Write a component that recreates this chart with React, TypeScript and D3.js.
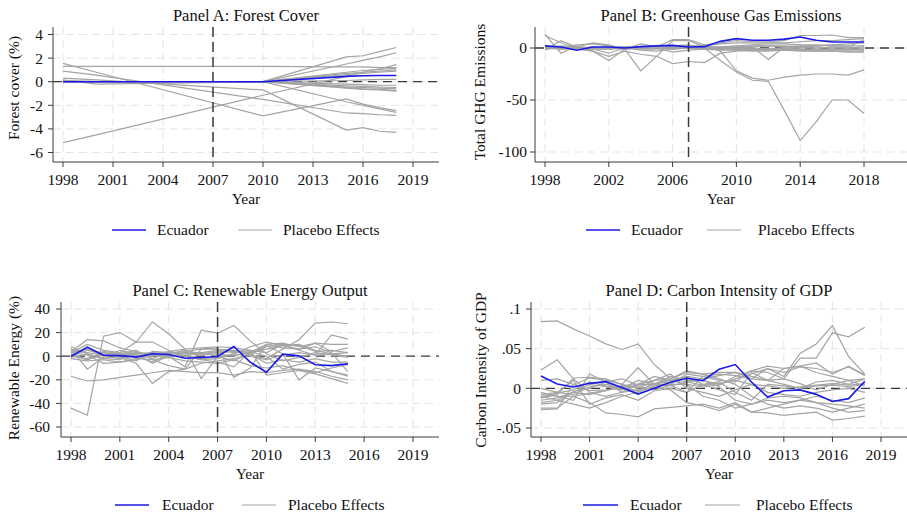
import React from 'react';
import * as d3 from 'd3';

// ---------------- DATA ----------------
const treatYear = 2007;

// Panel A: Forest cover (knot years of the series)
const aYears = [1998, 2000, 2010, 2015, 2016, 2017, 2018];
const aEcuador = [0, 0, 0, 0.45, 0.5, 0.52, 0.52];
const aPlacebo = [
  [1.3, 1.3, 1.3, 1.25, 1.25, 1.2, 1.2],
  [1.55, 0.8, -2.9, -1.45, -1.9, -2.2, -2.45],
  [0.9, 0.55, -1.5, -2.65, -2.7, -2.8, -2.85],
  [0.3, 0.15, -0.7, -4.1, -3.9, -4.2, -4.3],
  [-5.17, -4.5, -1.15, 0.45, 0.8, 1.1, 1.45],
  [0.15, -0.2, 0, 2.1, 2.2, 2.55, 2.9],
  [0.1, 0, 0, 1.5, 1.8, 2.1, 2.45],
  [0, 0, 0, 0.7, 0.8, 0.9, 1.0],
  [0, 0, 0, 0.6, 0.7, 0.8, 0.9],
  [0.05, 0, 0, 0.8, 0.95, 1.05, 1.15],
  [0, 0, 0, 0.1, 0.15, 0.2, 0.2],
  [0, 0, 0, -0.2, -0.25, -0.3, -0.3],
  [0, 0, 0, -0.35, -0.4, -0.45, -0.5],
  [0, 0, 0, -0.45, -0.5, -0.55, -0.6],
  [0.05, 0, 0, -0.5, -0.6, -0.65, -0.75],
  [0, 0, 0, -0.55, -0.65, -0.7, -0.8],
  [0, 0, 0, -1.7, -2.0, -2.3, -2.6],
];
const aXTicks = [1998, 2001, 2004, 2007, 2010, 2013, 2016, 2019];
const aYTicks = [-6, -4, -2, 0, 2, 4];
const aYTickLabels = ['-6', '-4', '-2', '0', '2', '4'];

// Panel B: GHG emissions
const bYears = d3.range(1998, 2019);
const bEcuador = [2, 1, -2.2, 1, 1, 0, 1.3, 2, 2.5, 1, 1.3, 6.4, 9, 7.4, 7.4, 8.5, 10.5, 7.4, 5.8, 5.8, 5.8];
const bPlacebo = [
  [1, 0, 1, 0, -1, 0, 1, 0, 2, 3, 0, -12, -23, -31, -32, -60, -89, -71, -50, -50, -63],
  [0, 2, 1, 0, 0, 1, 0, 1, 1, 2, 2, -3, -22, -29, -31, -28, -26, -25, -25, -26, -21],
  [13, -5, 2, -3, -12, -1, -22, -8, 7, 7, 1, 0, -1, 0, -1, 0, 1, 0, 1, 0, 1],
  [0, 1, -1, -3, -8, -3, -6, -8, -15, -13, -14, -5, -3, -2, -2, -1, -2, -1, -2, -1, -2],
  [-2, 7, 1, 5, 3, -1, 4, 1, 8, 8, 3, 5, 7, 6, 6, 7, 12, 12, 12.5, 10, 10],
  [12, 5, 0, -1, -5, 0, -2, -3, -1, 0, 2, 4, 5, 5, 5, 5, 6, 7, 7, 8, 9],
  [0, 0, 1, 0, 0, 0, 0, 0, 0, 0, 1, -1, 0, 1, -11, 1, 2, 2, 3, 1, 8],
  [1, -1, 0, -1, 0, 0, 1, 0, -1, 0, 0, 1, 2, 3, 4, 4, 3, 3, 2, 2, 2],
  [-1, 0, 0, 0, 0, -1, 0, 1, 0, 1, 1, 0, -1, -1, -2, -2, -3, -3, -3, -4, -4],
  [0, 1, 0, -1, -1, 0, -1, -1, 0, 0, -1, -2, -2, -3, -3, -2, -2, -3, -3, -3, -3],
  [0, -1, 0, 0, 1, 1, 0, 0, 0, 1, 1, 1, 1, 2, 2, 1, 1, 1, 0, 0, 0],
  [2, 0, 3, 4, 2, -1, 0, 1, 2, 1, 0, 0, 0, -1, -1, 0, -1, -1, -1, -2, -1],
  [0, 0, -1, 0, 0, 0, 0, 0, 1, 0, -1, -1, -1, -2, -1, -1, -1, -2, -1, -1, -1],
  [-1, 1, 0, 1, 0, 1, 0, 0, -4, -2, -1, 0, 1, 1, 2, 2, 1, 2, 3, 4, 5],
];
const bXTicks = [1998, 2002, 2006, 2010, 2014, 2018];
const bYTicks = [-100, -50, 0];
const bYTickLabels = ['-100', '-50', '0'];

// Panel C: Renewable energy output
const cYears = d3.range(1998, 2016);
const cEcuador = [0, 7.6, 0.8, 0.5, -0.8, 2, 1.4, -1.7, -1.1, -0.3, 8.2, -5, -13.6, 1.7, 0.3, -7.3, -8, -6.5];
const cPlacebo = [
  [-44, -50, 17, 20, 12, 12, 5, 0, -3, -2, 2, 0, -3, 1, 3, 1, 2, 3],
  [-17, -21, -20, -18, -16, -14, -12, -13, -14, -14, -16, -13, -14, -12, -11, -13, -17, -20],
  [3, 10, 5, 3, 12, 29, 19, 6, -19, 0, -4, 3, 6, 9, 10, 5, 2, 0],
  [8, 2, -2, -3, 2, -6, 0, -9, 22, 19.5, 26, 13, 2, -4, -1, 3, 1, -1],
  [6, 3, 1, 2, 1, 0, 2, 3, 2, 4, 5, 1, -2, 6, 14, 28, 29, 27.5],
  [2, -3, 4, 2, 5, -2, 3, 2, 1, 2, 0, 4, 8, 10, 5, 1, 18, 14.5],
  [4, 14, 13, 7, 4, -3, -8, -11, 6, 6, 5, 3, 10, 11, 8, 11, 10, 10],
  [0, -2, 3, -1, -6, -23, -13, -11, -6, -4, -2, 1, 9, 2, -20, -10, -13, -16],
  [6, -11, -1, 5, 2, 3, 2, 4, 6, 7, -18, -10, 10, 7, 6, 8, 3, -13],
  [0, 5, 3, 1, 3, 2, 4, 6, 7, 8, 7, 5, -16, -14, -12, -15, -19, -23],
  [-2, -4, -3, -5, -2, -3, -1, -4, -5, -6, -3, -8, -10, -8, -12, -14, -10, -7],
  [3, 1, -6, -5, -3, 1, 0, 1, -2, -1, 2, 8, 12, 9, 6, 11, 4, 7],
  [1, -3, 1, 3, 0, -5, 2, 5, 2, 3, 4, 2, -6, -3, -5, -2, -5, -5],
  [-1, 2, -2, 0, -4, 4, 3, 0, -3, -5, -9, 4, 0, -11, -7, -5, -13, -17],
  [3, 6, 0, -2, 3, 1, -1, 3, 3, 5, 3, 5, 3, 10, 9, 4, 5, 3],
];
const cXTicks = [1998, 2001, 2004, 2007, 2010, 2013, 2016, 2019];
const cYTicks = [-60, -40, -20, 0, 20, 40];
const cYTickLabels = ['-60', '-40', '-20', '0', '20', '40'];

// Panel D: Carbon intensity of GDP
const dYears = d3.range(1998, 2019);
const dEcuador = [0.0156, 0.0055, 0.0017, 0.0063, 0.0084, 0.001, -0.0072, 0, 0.0076, 0.0127, 0.0097, 0.024, 0.03, 0.008, -0.011, -0.003, -0.002, -0.0076, -0.0165, -0.013, 0.009];
const dPlacebo = [
  [0.084, 0.085, 0.075, 0.066, 0.056, 0.049, 0.056, 0.03, 0.012, 0.008, 0.004, 0.006, 0.01, 0.005, 0.003, 0.0, 0.002, 0.004, 0.006, 0.004, 0.006],
  [0.023, 0.036, 0.012, -0.005, -0.01, -0.005, 0.005, 0.015, 0.01, 0.005, 0.002, 0.004, 0.015, 0.022, 0.028, 0.025, 0.028, 0.032, 0.018, 0.028, 0.016],
  [-0.012, -0.006, -0.002, 0.008, 0.003, 0.0, 0.01, 0.006, 0.01, 0.015, 0.012, 0.016, 0.02, 0.012, 0.025, 0.015, 0.044, 0.056, 0.079, 0.04, 0.018],
  [-0.008, -0.01, -0.01, -0.006, -0.003, 0.003, 0.005, 0.005, 0.005, 0.018, 0.015, 0.01, 0.008, 0.022, 0.02, 0.012, 0.038, 0.038, 0.07, 0.065, 0.077],
  [-0.025, -0.025, -0.01, -0.018, -0.031, -0.033, -0.036, -0.026, -0.024, -0.022, -0.02, -0.025, -0.018, -0.03, -0.031, -0.034, -0.032, -0.03, -0.04, -0.038, -0.035],
  [-0.027, -0.026, 0.005, 0.013, 0.01, 0.005, 0.026, 0.005, 0.015, 0.01, 0.01, 0.005, 0.012, 0.018, 0.025, 0.02, 0.027, 0.025, 0.02, 0.027, 0.017],
  [-0.012, -0.008, 0.013, 0.014, 0.012, 0.005, 0.0, 0.01, 0.012, 0.02, 0.018, 0.012, 0.005, -0.01, -0.02, -0.025, -0.022, -0.025, -0.03, -0.025, -0.02],
  [-0.005, -0.01, -0.015, 0.018, 0.008, -0.005, -0.002, 0.005, 0.003, 0.008, 0.01, 0.002, -0.015, -0.02, -0.015, -0.018, -0.015, -0.01, -0.015, -0.018, -0.012],
  [0.0, -0.005, 0.01, -0.02, -0.012, -0.008, -0.015, -0.003, 0.0, -0.005, 0.015, 0.018, 0.016, 0.012, 0.01, 0.025, 0.028, 0.02, 0.015, 0.01, 0.012],
  [-0.01, -0.015, -0.02, -0.025, -0.018, -0.01, -0.005, 0.003, 0.005, 0.005, -0.01, -0.015, -0.025, -0.02, -0.012, -0.01, -0.012, -0.018, -0.02, -0.022, -0.025],
  [-0.015, -0.012, -0.005, -0.008, -0.003, 0.003, 0.002, -0.002, 0.004, -0.005, 0.005, 0.008, -0.005, -0.015, 0.005, 0.003, 0.0, 0.003, 0.004, 0.002, 0.005],
  [-0.008, -0.005, -0.008, 0.002, 0.005, 0.001, -0.003, 0.006, 0.008, 0.015, 0.005, -0.002, -0.008, 0.02, 0.01, 0.012, 0.006, -0.002, 0.005, 0.01, 0.003],
  [-0.02, -0.018, -0.005, 0.005, 0.002, -0.002, 0.005, 0.01, 0.018, 0.0, -0.005, -0.01, -0.002, 0.005, -0.005, -0.008, -0.01, -0.005, -0.002, 0.0, -0.005],
  [0.01, 0.012, 0.005, -0.003, -0.002, 0.0, -0.004, 0.002, -0.002, -0.018, -0.022, -0.028, -0.02, -0.03, -0.025, -0.02, -0.015, -0.018, -0.025, -0.03, -0.028],
  [-0.018, -0.015, -0.004, 0.0, 0.008, 0.012, 0.004, 0.005, 0.012, 0.022, 0.018, 0.02, 0.02, 0.015, 0.01, 0.005, 0.0, 0.008, 0.01, 0.005, 0.012],
];
const dXTicks = [1998, 2001, 2004, 2007, 2010, 2013, 2016, 2019];
const dYTicks = [-0.05, 0, 0.05, 0.1];
const dYTickLabels = ['-.05', '0', '.05', '.1'];

const legendLabels = ['Ecuador', 'Placebo Effects'];

// ---------------- STYLE ----------------
const FONT = "'Liberation Serif', 'Times New Roman', serif";
const BLUE = '#1a1ae6';
const GRAY = '#a4a4a4';
const AXIS = '#3a3a3a';
const GRID = '#e4e4e4';

type Spec = {
  title: string;
  ylabel: string;
  years: number[];
  ecuador: number[];
  placebo: number[][];
  xTicks: number[];
  yTicks: number[];
  yTickLabels: string[];
  xDom: [number, number];
  xRange: [number, number];
  yDom: [number, number];
  yRange: [number, number];
  left: number;
  right: number;
  top: number;
  bottom: number;
  yLabelX: number;
  yLabelY: number;
  yTickGap: number;
  legend: { b0: number; bt: number; g0: number; gt: number; len: number };
};

function Panel({ s }: { s: Spec }) {
  const x = d3.scaleLinear().domain(s.xDom).range(s.xRange);
  const y = d3.scaleLinear().domain(s.yDom).range(s.yRange);
  const line = d3
    .line<number>()
    .x((_, i) => x(s.years[i]))
    .y((d) => y(d));
  const cx = (s.left + s.right) / 2;
  const tickY = s.bottom + 23;
  const yearY = s.bottom + 42;
  const legY = s.bottom + 73;
  return (
    <g>
      {s.yTicks.map((t) => (
        <line key={'gy' + t} x1={s.left} x2={s.right} y1={y(t)} y2={y(t)} stroke={GRID} strokeWidth={1} strokeDasharray="8,5" />
      ))}
      {s.xTicks.map((t) => (
        <line key={'gx' + t} x1={x(t)} x2={x(t)} y1={s.top} y2={s.bottom} stroke={GRID} strokeWidth={1} strokeDasharray="8,5" />
      ))}
      <line x1={s.left} x2={s.right} y1={y(0)} y2={y(0)} stroke={AXIS} strokeWidth={1.3} strokeDasharray="9,6" />
      {s.placebo.map((p, i) => (
        <path key={'p' + i} d={line(p) || ''} fill="none" stroke={GRAY} strokeWidth={1.2} />
      ))}
      <line x1={x(treatYear)} x2={x(treatYear)} y1={s.top} y2={s.bottom} stroke={AXIS} strokeWidth={1.5} strokeDasharray="10,5" />
      <path d={line(s.ecuador) || ''} fill="none" stroke={BLUE} strokeWidth={1.6} />
      <line x1={s.left} x2={s.left} y1={s.top} y2={s.bottom} stroke={AXIS} strokeWidth={1} />
      <line x1={s.left} x2={s.right} y1={s.bottom} y2={s.bottom} stroke={AXIS} strokeWidth={1} />
      {s.yTicks.map((t, i) => (
        <g key={'yt' + t}>
          <line x1={s.left - 5} x2={s.left} y1={y(t)} y2={y(t)} stroke={AXIS} strokeWidth={1} />
          <text x={s.left - s.yTickGap} y={y(t)} dy="0.35em" textAnchor="end" fontSize={15.5} fontFamily={FONT} fill="#111">
            {s.yTickLabels[i]}
          </text>
        </g>
      ))}
      {s.xTicks.map((t) => (
        <g key={'xt' + t}>
          <line x1={x(t)} x2={x(t)} y1={s.bottom} y2={s.bottom + 5} stroke={AXIS} strokeWidth={1} />
          <text x={x(t)} y={tickY} textAnchor="middle" fontSize={15.5} fontFamily={FONT} fill="#111">
            {t}
          </text>
        </g>
      ))}
      <text x={cx} y={s.top - 6} textAnchor="middle" fontSize={16.5} fontFamily={FONT} fill="#111">
        {s.title}
      </text>
      <text x={cx} y={yearY} textAnchor="middle" fontSize={15.5} fontFamily={FONT} fill="#111">
        Year
      </text>
      <text
        transform={`translate(${s.yLabelX},${s.yLabelY}) rotate(-90)`}
        textAnchor="middle"
        dy="0.35em"
        fontSize={15.5}
        fontFamily={FONT}
        fill="#111"
      >
        {s.ylabel}
      </text>
      <line x1={s.legend.b0} x2={s.legend.b0 + s.legend.len} y1={legY - 5} y2={legY - 5} stroke={BLUE} strokeWidth={1.6} />
      <text x={s.legend.bt} y={legY} fontSize={15.5} fontFamily={FONT} fill="#111">
        {legendLabels[0]}
      </text>
      <line x1={s.legend.g0} x2={s.legend.g0 + s.legend.len} y1={legY - 5} y2={legY - 5} stroke={GRAY} strokeWidth={1.2} />
      <text x={s.legend.gt} y={legY} fontSize={15.5} fontFamily={FONT} fill="#111">
        {legendLabels[1]}
      </text>
    </g>
  );
}

const specs: Spec[] = [
  {
    title: 'Panel A: Forest Cover',
    ylabel: 'Forest cover (%)',
    years: aYears,
    ecuador: aEcuador,
    placebo: aPlacebo,
    xTicks: aXTicks,
    yTicks: aYTicks,
    yTickLabels: aYTickLabels,
    xDom: [1998, 2019],
    xRange: [63, 413],
    yDom: [4, -6],
    yRange: [34.5, 152.5],
    left: 53,
    right: 439,
    top: 27,
    bottom: 162,
    yLabelX: 14,
    yLabelY: 88,
    yTickGap: 10,
    legend: { b0: 112, bt: 157, g0: 238, gt: 283, len: 34 },
  },
  {
    title: 'Panel B: Greenhouse Gas Emissions',
    ylabel: 'Total GHG Emissions',
    years: bYears,
    ecuador: bEcuador,
    placebo: bPlacebo,
    xTicks: bXTicks,
    yTicks: bYTicks,
    yTickLabels: bYTickLabels,
    xDom: [1998, 2018],
    xRange: [545, 864],
    yDom: [0, -100],
    yRange: [48, 152],
    left: 535,
    right: 907,
    top: 27,
    bottom: 162,
    yLabelX: 480,
    yLabelY: 92,
    yTickGap: 8,
    legend: { b0: 586, bt: 631, g0: 707, gt: 758, len: 34 },
  },
  {
    title: 'Panel C: Renewable Energy Output',
    ylabel: 'Renewable Energy (%)',
    years: cYears,
    ecuador: cEcuador,
    placebo: cPlacebo,
    xTicks: cXTicks,
    yTicks: cYTicks,
    yTickLabels: cYTickLabels,
    xDom: [1998, 2019],
    xRange: [71, 413],
    yDom: [40, -60],
    yRange: [309, 427],
    left: 61,
    right: 439,
    top: 302,
    bottom: 437,
    yLabelX: 14,
    yLabelY: 368,
    yTickGap: 11,
    legend: { b0: 115, bt: 162, g0: 242, gt: 288, len: 34 },
  },
  {
    title: 'Panel D: Carbon Intensity of GDP',
    ylabel: 'Carbon Intensity of GDP',
    years: dYears,
    ecuador: dEcuador,
    placebo: dPlacebo,
    xTicks: dXTicks,
    yTicks: dYTicks,
    yTickLabels: dYTickLabels,
    xDom: [1998, 2019],
    xRange: [541, 881],
    yDom: [0.1, -0.05],
    yRange: [309, 428],
    left: 531,
    right: 907,
    top: 302,
    bottom: 437,
    yLabelX: 481,
    yLabelY: 370,
    yTickGap: 10,
    legend: { b0: 583, bt: 630, g0: 705, gt: 756, len: 35 },
  },
];

export default function App() {
  return (
    <svg
      width={907}
      height={517}
      viewBox="0 0 907 517"
      style={{ position: 'absolute', left: 0, top: 0, background: '#fff' }}
    >
      <rect width={907} height={517} fill="#fff" />
      {specs.map((s) => (
        <Panel key={s.title} s={s} />
      ))}
    </svg>
  );
}
